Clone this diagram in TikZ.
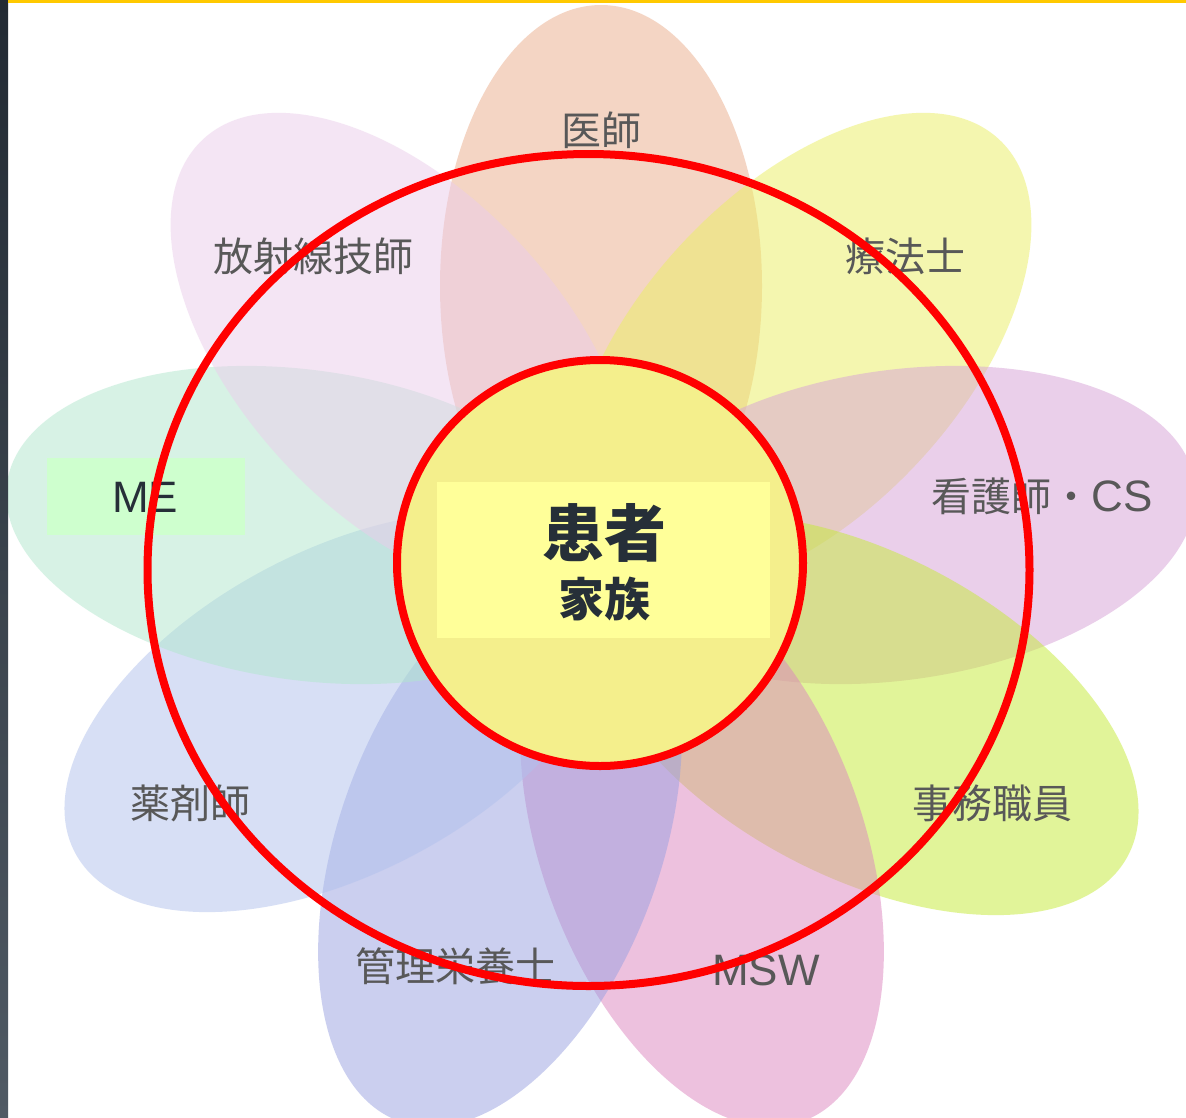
\documentclass[tikz,border=0pt]{standalone}
\usepackage{fontspec}
\newfontfamily\jpfont{Noto Sans CJK JP}
\newfontfamily\latinfont{Liberation Sans}
\definecolor{cDoc}{RGB}{235,173,139}
\definecolor{cTher}{RGB}{235,239,97}
\definecolor{cNurse}{RGB}{215,161,215}
\definecolor{cOffice}{RGB}{197,235,53}
\definecolor{cMSW}{RGB}{221,133,191}
\definecolor{cDiet}{RGB}{153,161,225}
\definecolor{cPharm}{RGB}{177,193,237}
\definecolor{cME}{RGB}{177,231,205}
\definecolor{cRad}{RGB}{235,205,235}
\definecolor{ctr}{RGB}{244,239,140}
\definecolor{cedge}{RGB}{222,222,178}
\definecolor{boxyellow}{RGB}{255,255,153}
\definecolor{meboxgreen}{RGB}{206,255,206}
\definecolor{labelgray}{RGB}{88,88,88}
\definecolor{darktext}{RGB}{38,47,56}
\definecolor{topgold}{RGB}{255,201,0}
\definecolor{bartop}{RGB}{34,42,51}
\definecolor{barbottom}{RGB}{80,90,100}
\pgfdeclareradialshading{innerglow}{\pgfpoint{0bp}{0bp}}{color(0bp)=(ctr); color(45bp)=(ctr); color(50bp)=(cedge)}
% petal: centre x, centre y, angle, long radius, short radius, colour
\newcommand{\flowerpetal}[6]{%
  \fill[#6, fill opacity=0.5, shift={(#1,#2)}, rotate=#3]
    (0,0) ellipse[x radius=#4, y radius=#5];}
\begin{document}
\begin{tikzpicture}[x=1pt, y=-1pt,
  lbl/.style={text=labelgray, font=\fontsize{40}{44}\selectfont\jpfont, inner sep=0pt},
  ring/.style={draw=red, line width=8pt}]
\useasboundingbox (0,0) rectangle (1186,1117);
\fill[white] (0,0) rectangle (1186,1117);
% petals
\flowerpetal{601}{286}{90}{281}{161}{cDoc}
\flowerpetal{800}{353}{47}{292}{161}{cTher}
\flowerpetal{898}{525}{8}{300}{155}{cNurse}
\flowerpetal{863}{715}{-28}{300}{161}{cOffice}
\flowerpetal{702}{844}{-70}{295}{161}{cMSW}
\flowerpetal{500}{844}{-110}{295}{161}{cDiet}
\flowerpetal{340}{712}{-152}{300}{161}{cPharm}
\flowerpetal{304}{525}{172}{300}{155}{cME}
\flowerpetal{402}{353}{133}{292}{161}{cRad}
% inner disc
\shade[shading=innerglow] (600,563) circle[radius=203];
\node[fill=boxyellow, minimum width=333pt, minimum height=156pt, inner sep=0pt] (pbox) at (603.5,560) {};
\node[text=darktext, font=\fontsize{62}{62}\selectfont\jpfont\bfseries, inner sep=0pt] (patient) at (604,533) {患者};
\node[text=darktext, font=\fontsize{46}{46}\selectfont\jpfont\bfseries, inner sep=0pt] (family) at (604,599) {家族};
% labels
\node[lbl] (doc) at (601,130) {医師};
\node[lbl] (rad) at (313,256) {放射線技師};
\node[lbl] (ther) at (905,256) {療法士};
\node[fill=meboxgreen, minimum width=198pt, minimum height=77pt, inner sep=0pt] (mebox) at (146,496) {};
\node[text=darktext, font=\fontsize{44}{44}\selectfont\latinfont, inner sep=0pt] (me) at (145,497) {ME};
\node[lbl] (nurse) at (1042,496) {看護師・{\fontsize{44}{44}\selectfont\latinfont CS}};
\node[lbl] (pharm) at (190,803) {薬剤師};
\node[lbl] (office) at (992,803) {事務職員};
\node[lbl] (diet) at (455,966) {管理栄養士};
\node[lbl] (msw) at (766,970) {{\fontsize{44}{44}\selectfont\latinfont MSW}};
% rings
\draw[ring] (600,563) circle[radius=203];
\draw[ring] (588.5,570) ellipse[x radius=441, y radius=416];
% frame accents
\shade[top color=bartop, bottom color=barbottom] (0,0) rectangle (8,1117);
\fill[topgold] (8,0) rectangle (1186,3);
\end{tikzpicture}
\end{document}
